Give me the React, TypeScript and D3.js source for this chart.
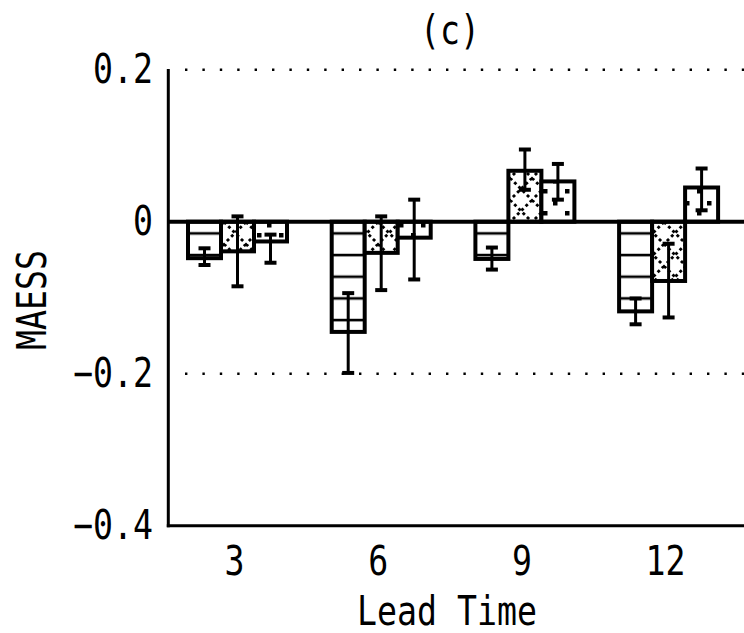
import React from "react";
import * as d3 from "d3";

const categories = ["3", "6", "9", "12"];
const seriesNames = ["stripes", "cross", "dots"];
const values1 = [-0.048, -0.145, -0.049, -0.118];
const low1 = [-0.057, -0.199, -0.063, -0.135];
const high1 = [-0.035, -0.094, -0.034, -0.101];
const values2 = [-0.039, -0.041, 0.067, -0.078];
const low2 = [-0.085, -0.09, 0.042, -0.126];
const high2 = [0.007, 0.007, 0.095, -0.029];
const values3 = [-0.026, -0.021, 0.053, 0.045];
const low3 = [-0.054, -0.076, 0.029, 0.015];
const high3 = [-0.017, 0.029, 0.076, 0.07];
const yTicks = [0.2, 0, -0.2, -0.4];
const yTickLabels = ["0.2", "0", "\u22120.2", "\u22120.4"];
const gridValues = [0.2, -0.2];

const W = 744;
const H = 633;
const FONT = "'DejaVu Sans Mono', 'Liberation Mono', monospace";

function Txt({ x, y, children, anchor = "middle", rotate = 0 }: any) {
  return (
    <text
      transform={`translate(${x},${y}) rotate(${rotate}) scale(0.83,1)`}
      textAnchor={anchor}
      dominantBaseline="central"
      fontFamily={FONT}
      fontSize={40}
      fill="#000"
    >
      {children}
    </text>
  );
}

export default function App() {
  const y = d3.scaleLinear().domain([-0.4, 0.2]).range([525.7, 69.7]);
  const x = d3.scalePoint<string>().domain(categories).range([237.5, 668.6]);
  const inner = d3.scaleBand<string>().domain(seriesNames).range([-49.5, 49.5]);
  const axisX = 168.3;
  const series = [
    { name: "stripes", v: values1, lo: low1, hi: high1, fill: "url(#pStripes)" },
    { name: "cross", v: values2, lo: low2, hi: high2, fill: "url(#pCross)" },
    { name: "dots", v: values3, lo: low3, hi: high3, fill: "url(#pDots)" },
  ];
  const bw = inner.bandwidth();
  return (
    <svg
      width={W}
      height={H}
      style={{ position: "absolute", left: 0, top: 0, background: "#fff" }}
    >
      <defs>
        <pattern id="pStripes" patternUnits="userSpaceOnUse" width={10} height={21.67} y={233.3} x={0}>
          <rect width={10} height={21.67} fill="#fff" />
          <rect y={-1.2} width={10} height={2.6} fill="#000" />
          <rect y={20.47} width={10} height={2.6} fill="#000" />
        </pattern>
        <pattern id="pCross" patternUnits="userSpaceOnUse" width={22} height={22} x={4} y={2}>
          <rect width={22} height={22} fill="#fff" />
          <line x1={0} y1={0} x2={22} y2={22} stroke="#000" strokeWidth={2.8} strokeDasharray="3 3" />
          <line x1={22} y1={0} x2={0} y2={22} stroke="#000" strokeWidth={2.8} strokeDasharray="3 3" />
        </pattern>
        <pattern id="pDots" patternUnits="userSpaceOnUse" width={22} height={22} x={1} y={1}>
          <rect width={22} height={22} fill="#fff" />
          <rect x={2} y={2} width={4.5} height={4.5} fill="#000" />
          <rect x={14} y={12} width={4.5} height={4.5} fill="#000" />
        </pattern>
      </defs>

      {/* dotted grid lines */}
      {gridValues.map((g) => (
        <line
          key={g}
          x1={185}
          x2={W}
          y1={y(g)}
          y2={y(g)}
          stroke="#000"
          strokeWidth={2.4}
          strokeDasharray="2.4 15"
        />
      ))}

      {/* bars */}
      {series.map((s) =>
        categories.map((c, i) => {
          const x0 = (x(c) as number) + (inner(s.name) as number);
          const y0 = Math.min(y(0), y(s.v[i]));
          const h = Math.abs(y(s.v[i]) - y(0));
          return (
            <rect
              key={s.name + c}
              x={x0}
              y={y0}
              width={bw}
              height={h}
              fill={s.fill}
              stroke="#000"
              strokeWidth={4}
            />
          );
        })
      )}

      {/* zero line */}
      <line x1={axisX} x2={W} y1={y(0)} y2={y(0)} stroke="#000" strokeWidth={4} />

      {/* error bars */}
      {series.map((s) =>
        categories.map((c, i) => {
          const cx = (x(c) as number) + (inner(s.name) as number) + bw / 2;
          return (
            <g key={"e" + s.name + c}>
              <line x1={cx} x2={cx} y1={y(s.lo[i])} y2={y(s.hi[i])} stroke="#000" strokeWidth={3} />
              <line x1={cx - 6} x2={cx + 6} y1={y(s.lo[i])} y2={y(s.lo[i])} stroke="#000" strokeWidth={4} />
              <line x1={cx - 6} x2={cx + 6} y1={y(s.hi[i])} y2={y(s.hi[i])} stroke="#000" strokeWidth={4} />
            </g>
          );
        })
      )}

      {/* axes */}
      <line x1={axisX} x2={axisX} y1={69} y2={y(-0.4) + 1.5} stroke="#000" strokeWidth={3} />
      <line x1={axisX - 1.5} x2={W} y1={y(-0.4)} y2={y(-0.4)} stroke="#000" strokeWidth={3} />

      {/* y tick labels */}
      {yTicks.map((t, i) => (
        <Txt key={t} x={153} y={y(t)} anchor="end">
          {yTickLabels[i]}
        </Txt>
      ))}

      {/* x tick labels */}
      {categories.map((c) => (
        <Txt key={c} x={(x(c) as number) - 3} y={561}>
          {c}
        </Txt>
      ))}

      <Txt x={450} y={30}>(c)</Txt>
      <Txt x={447} y={611}>Lead Time</Txt>
      <Txt x={32} y={300} rotate={-90}>MAESS</Txt>
    </svg>
  );
}
